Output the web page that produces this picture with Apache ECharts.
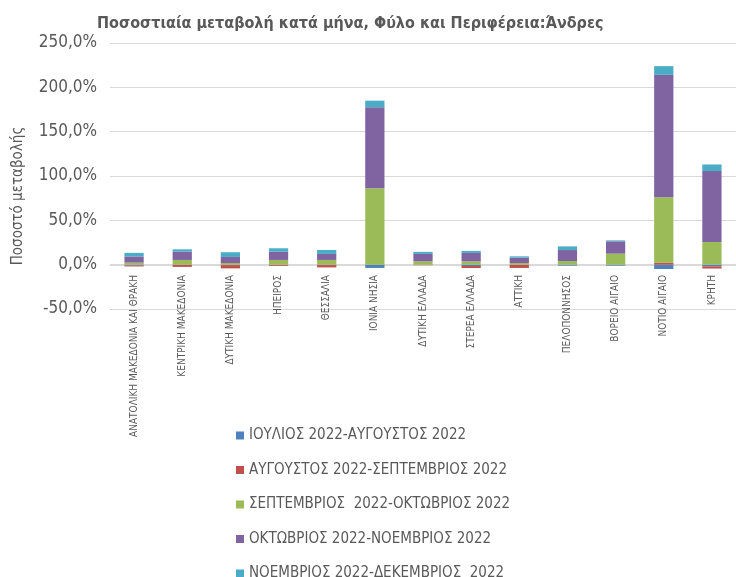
<!DOCTYPE html>
<html>
<head>
<meta charset="utf-8">
<script src="https://cdn.jsdelivr.net/npm/echarts@6/dist/echarts.min.js"></script>
<style>
  html, body { margin: 0; padding: 0; background: #fff; }
  #chart { width: 736px; height: 577px; }
</style>
</head>
<body>
<div id="chart"></div>
<script>
// regions (x axis)
const regions = [
  'ΑΝΑΤΟΛΙΚΗ ΜΑΚΕΔΟΝΙΑ ΚΑΙ ΘΡΑΚΗ', 'ΚΕΝΤΡΙΚΗ ΜΑΚΕΔΟΝΙΑ', 'ΔΥΤΙΚΗ ΜΑΚΕΔΟΝΙΑ',
  'ΗΠΕΙΡΟΣ', 'ΘΕΣΣΑΛΙΑ', 'ΙΟΝΙΑ ΝΗΣΙΑ', 'ΔΥΤΙΚΗ ΕΛΛΑΔΑ', 'ΣΤΕΡΕΑ ΕΛΛΑΔΑ',
  'ΑΤΤΙΚΗ', 'ΠΕΛΟΠΟΝΝΗΣΟΣ', 'ΒΟΡΕΙΟ ΑΙΓΑΙΟ', 'ΝΟΤΙΟ ΑΙΓΑΙΟ', 'ΚΡΗΤΗ'
]

// monthly % change per region
const julAug = [-1.0, -0.3, -0.5, -0.3, -0.5, -3.7, -0.3, -1.5, -0.3, -1.1, -1.1, -4.9, -1.9]
const augSep = [-1.0, -2.2, -3.7, -1.0, -2.6, 0, -0.3, -2.3, -3.4, 0, 0, 2.3, -2.5]
const sepOct = [2.3, 5.3, 1.9, 5.3, 5.3, 86.3, 3.8, 3.8, 1.9, 4.1, 12.4, 73.6, 25.5]
const octNov = [7.0, 9.4, 6.8, 9.4, 6.8, 91.2, 8.3, 9.4, 6.0, 12.4, 13.9, 138.2, 80.0]
const novDec = [4.0, 2.6, 5.3, 3.8, 4.5, 7.5, 2.3, 2.3, 1.5, 4.1, 1.1, 9.8, 7.5]

const seriesNames = [
  'ΙΟΥΛΙΟΣ 2022-ΑΥΓΟΥΣΤΟΣ 2022',
  'ΑΥΓΟΥΣΤΟΣ 2022-ΣΕΠΤΕΜΒΡΙΟΣ 2022',
  'ΣΕΠΤΕΜΒΡΙΟΣ  2022-ΟΚΤΩΒΡΙΟΣ 2022',
  'ΟΚΤΩΒΡΙΟΣ 2022-ΝΟΕΜΒΡΙΟΣ 2022',
  'ΝΟΕΜΒΡΙΟΣ 2022-ΔΕΚΕΜΒΡΙΟΣ  2022'
]
const seriesData = [julAug, augSep, sepOct, octNov, novDec]
const colors = ['#4F81BD', '#C0504D', '#9BBB59', '#8064A2', '#4BACC6']

const font = 'Liberation Sans Narrow, DejaVu Sans Condensed, Noto Sans, sans-serif'
const textColor = '#595959'

let myChart = echarts.init(document.getElementById('chart'))
myChart.setOption({
  backgroundColor: '#ffffff',
  color: colors,
  animation: false,
  title: {
    text: 'Ποσοστιαία μεταβολή κατά μήνα, Φύλο και Περιφέρεια:Άνδρες',
    left: 92,
    top: 11,
    textStyle: {
      color: textColor,
      fontFamily: font,
      fontWeight: 'bold',
      fontSize: 16
    }
  },
  graphic: [{
    type: 'text',
    x: 18,
    y: 196,
    rotation: Math.PI / 2,
    style: {
      text: 'Ποσοστό μεταβολής',
      fill: textColor,
      font: '15px ' + font,
      textAlign: 'center',
      textVerticalAlign: 'middle'
    }
  }],
  legend: {
    orient: 'vertical',
    left: 236,
    top: 428,
    height: 200,
    padding: 0,
    itemWidth: 8,
    itemHeight: 8,
    itemGap: 19.5,
    icon: 'rect',
    textStyle: {
      color: textColor,
      fontFamily: font,
      fontSize: 15,
      lineHeight: 14
    },
    data: seriesNames
  },
  grid: {
    left: 110,
    right: 0,
    top: 43,
    bottom: 268,
    containLabel: false
  },
  xAxis: {
    type: 'category',
    data: regions,
    offset: -44,
    axisLine: {
      onZero: false,
      lineStyle: { color: '#d9d9d9' }
    },
    axisTick: { show: false },
    axisLabel: {
      rotate: 90,
      interval: 0,
      margin: 10,
      color: textColor,
      fontFamily: font,
      fontSize: 10
    }
  },
  yAxis: {
    type: 'value',
    min: -50,
    max: 250,
    interval: 50,
    axisLine: { show: false },
    axisTick: { show: false },
    axisLabel: {
      margin: 13,
      color: textColor,
      fontFamily: font,
      fontSize: 17,
      formatter: v => v.toFixed(1).replace('.', ',') + '%'
    },
    splitLine: {
      lineStyle: { color: '#d9d9d9' }
    }
  },
  series: seriesData.map((d, i) => ({
    name: seriesNames[i],
    type: 'bar',
    stack: 'total',
    barWidth: '40%',
    data: d
  }))
})
</script>
</body>
</html>
